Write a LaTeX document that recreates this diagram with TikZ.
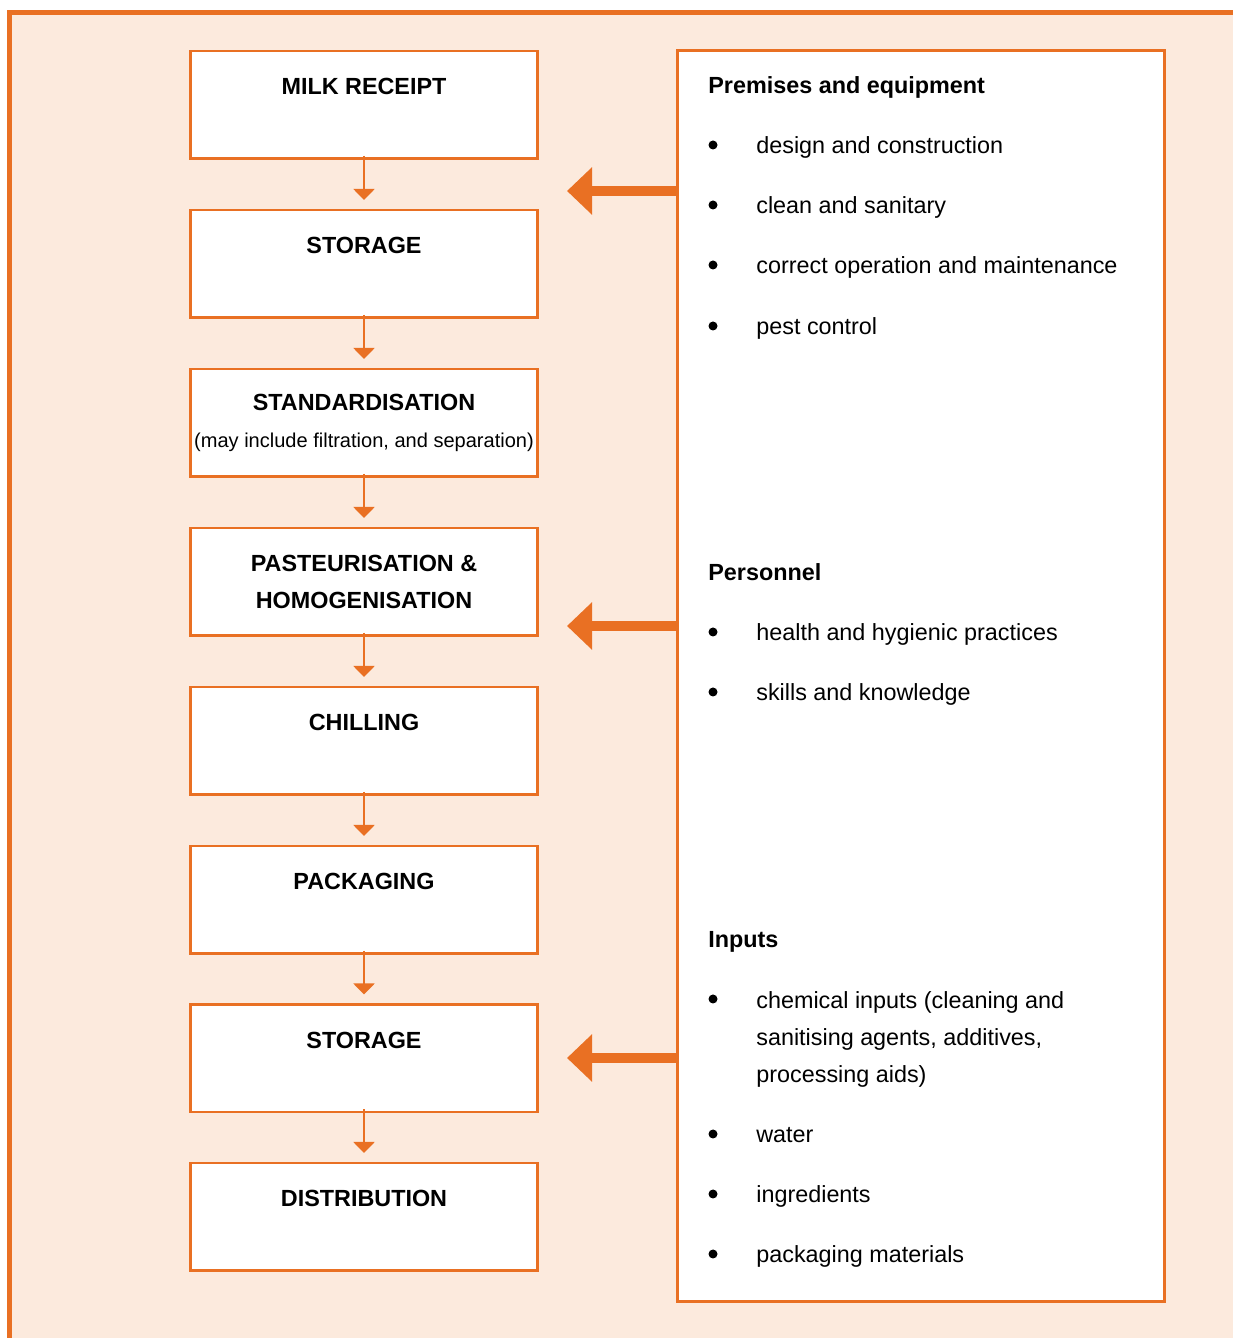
\documentclass[tikz,border=0pt]{standalone}
\usepackage{fontspec}
\setmainfont{Liberation Sans}
\usepackage{tikz}
\usetikzlibrary{arrows.meta}

\definecolor{flowOrange}{RGB}{233,112,35}
\definecolor{flowPeach}{RGB}{252,234,221}

\tikzset{
  stepbox/.style={draw=flowOrange, line width=0.05cm, fill=white,
    minimum width=6.94cm, minimum height=2.15cm, inner sep=0pt, align=center,
    font=\fontsize{13.3}{21}\selectfont\bfseries},
  flowarrow/.style={draw=flowOrange, line width=0.04cm,
    -{Triangle[length=0.22cm, width=0.42cm]}, shorten <=-0.08cm, shorten >=0.18cm},
  bigarrow/.style={draw=flowOrange, line width=0.2cm,
    -{Triangle[length=0.5cm, width=0.92cm]}},
  heading/.style={anchor=base west, inner sep=0pt, font=\fontsize{13.3}{21}\selectfont\bfseries},
  point/.style={anchor=base west, inner sep=0pt, align=left, font=\fontsize{13.3}{21.3}\selectfont},
  dot/.style={circle, fill=black, inner sep=0pt, minimum size=0.18cm, yshift=0.18cm},
}

\begin{document}
\begin{tikzpicture}
	\clip (0,0) rectangle (24.66,26.76);

	% -- Frame
	\draw[draw=flowOrange, line width=0.1cm, fill=flowPeach] (0.19,-1) rectangle (25.5,26.51);

	% -- Process steps
	\node[stepbox] (milk)     at (7.28,24.66) {MILK RECEIPT\\\mbox{}};
	\node[stepbox] (storeA)   at (7.28,21.48) {STORAGE\\\mbox{}};
	\node[stepbox] (standard) at (7.28,18.30) {STANDARDISATION\\{\fontsize{11.4}{21}\mdseries(may include filtration, and separation)}};
	\node[stepbox] (pasteur)  at (7.28,15.12) {PASTEURISATION \&\\HOMOGENISATION};
	\node[stepbox] (chill)    at (7.28,11.94) {CHILLING\\\mbox{}};
	\node[stepbox] (pack)     at (7.28,8.76)  {PACKAGING\\\mbox{}};
	\node[stepbox] (storeB)   at (7.28,5.59)  {STORAGE\\\mbox{}};
	\node[stepbox] (distrib)  at (7.28,2.42)  {DISTRIBUTION\\\mbox{}};

	\draw[flowarrow] (milk) -- (storeA);
	\draw[flowarrow] (storeA) -- (standard);
	\draw[flowarrow] (standard) -- (pasteur);
	\draw[flowarrow] (pasteur) -- (chill);
	\draw[flowarrow] (chill) -- (pack);
	\draw[flowarrow] (pack) -- (storeB);
	\draw[flowarrow] (storeB) -- (distrib);

	% -- Controls box
	\node[draw=flowOrange, line width=0.06cm, fill=white, minimum width=9.74cm,
	      minimum height=25.02cm] (ctrl) at (18.42,13.24) {};

	% -- Arrows into the flow
	\coordinate (tipPrem) at (11.34,22.94);
	\coordinate (tipPers) at (11.34,14.24);
	\coordinate (tipInp)  at (11.34,5.60);
	\draw[bigarrow] (ctrl.west |- tipPrem) -- (tipPrem);
	\draw[bigarrow] (ctrl.west |- tipPers) -- (tipPers);
	\draw[bigarrow] (ctrl.west |- tipInp) -- (tipInp);

	% -- Premises and equipment
	\node[heading] (hPrem) at (14.16,24.88) {Premises and equipment};
	\node[dot] at (14.26,23.68) {};
	\node[point] (pDesign) at (15.12,23.68) {design and construction};
	\node[dot] at (14.26,22.48) {};
	\node[point] (pClean) at (15.12,22.48) {clean and sanitary};
	\node[dot] at (14.26,21.28) {};
	\node[point] (pOper) at (15.12,21.28) {correct operation and maintenance};
	\node[dot] at (14.26,20.06) {};
	\node[point] (pPest) at (15.12,20.06) {pest control};

	% -- Personnel
	\node[heading] (hPers) at (14.16,15.14) {Personnel};
	\node[dot] at (14.26,13.94) {};
	\node[point] (pHealth) at (15.12,13.94) {health and hygienic practices};
	\node[dot] at (14.26,12.74) {};
	\node[point] (pSkill) at (15.12,12.74) {skills and knowledge};

	% -- Inputs (multi-line point sits on its last baseline)
	\node[heading] (hInp) at (14.16,7.80) {Inputs};
	\node[dot] at (14.26,6.60) {};
	\node[point] (pChem) at (15.12,5.10) {chemical inputs (cleaning and\\sanitising agents, additives,\\processing aids)};
	\node[dot] at (14.26,3.90) {};
	\node[point] (pWater) at (15.12,3.90) {water};
	\node[dot] at (14.26,2.70) {};
	\node[point] (pIngr) at (15.12,2.70) {ingredients};
	\node[dot] at (14.26,1.50) {};
	\node[point] (pPack) at (15.12,1.50) {packaging materials};
\end{tikzpicture}
\end{document}
